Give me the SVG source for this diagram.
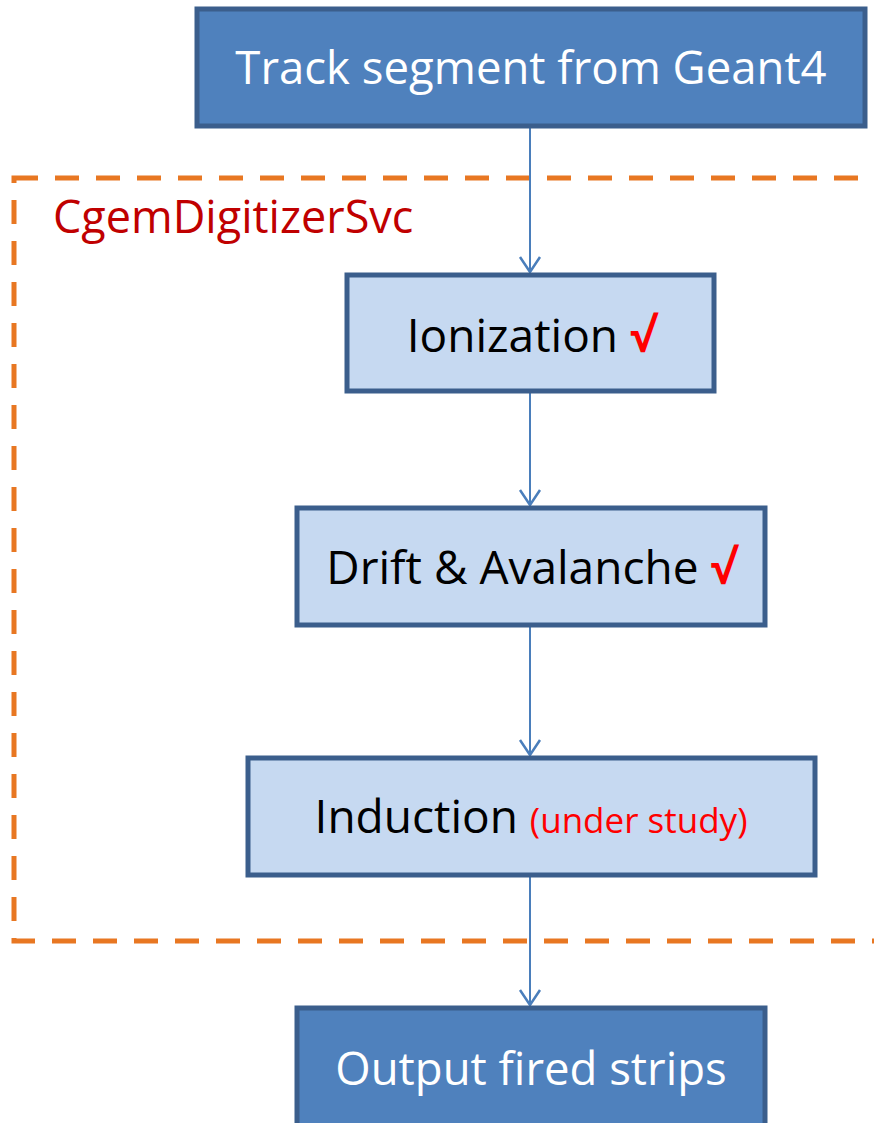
<svg xmlns="http://www.w3.org/2000/svg" width="874" height="1123" viewBox="0 0 874 1123">
  <style>
    .dark { fill: #4f81bd; stroke: #3b5e8c; stroke-width: 5; }
    .light { fill: #c6d9f1; stroke: #3b5e8c; stroke-width: 5; }
    text { font-family: "Open Sans", "Noto Sans", sans-serif; text-anchor: middle; }
    .wt { fill: #ffffff; font-size: 45.5px; }
    .bk { fill: #000000; font-size: 46px; }
    .ok { fill: #ff0000; font-weight: bold; }
    .note { fill: #ff0000; font-size: 35px; }
    .conn { stroke: #4a7ebb; stroke-width: 2; fill: none; }
  </style>
  <defs>
    <marker id="arrow" markerWidth="24" markerHeight="24" refX="18" refY="12" orient="auto" markerUnits="userSpaceOnUse" viewBox="0 0 24 24">
      <path d="M3,2 L18,12 L3,22" fill="none" stroke="#4a7ebb" stroke-width="2.5"/>
    </marker>
  </defs>
  <rect width="874" height="1123" fill="#ffffff"/>

  <!-- service boundary -->
  <g id="svc">
    <rect x="14" y="178" width="900" height="763" fill="none" stroke="#e87722" stroke-width="5" stroke-dasharray="24 17"/>
    <text x="53" y="233" style="text-anchor:start; fill:#c00000; font-size:45px;">CgemDigitizerSvc</text>
  </g>

  <!-- connectors -->
  <g id="connectors">
    <line class="conn" x1="530" y1="126" x2="530" y2="272" marker-end="url(#arrow)"/>
    <line class="conn" x1="530" y1="391" x2="530" y2="505" marker-end="url(#arrow)"/>
    <line class="conn" x1="530" y1="625" x2="530" y2="755" marker-end="url(#arrow)"/>
    <line class="conn" x1="530" y1="875" x2="530" y2="1005" marker-end="url(#arrow)"/>
  </g>

  <g id="track">
    <rect class="dark" x="197" y="9" width="668" height="117"/>
    <text class="wt" x="531" y="84">Track segment from Geant4</text>
  </g>

  <g id="ionization">
    <rect class="light" x="347" y="275" width="367" height="116"/>
    <text class="bk" x="531" y="352">Ionization <tspan class="ok">√</tspan></text>
  </g>

  <g id="drift">
    <rect class="light" x="297" y="508" width="468" height="117"/>
    <text class="bk" x="531" y="584">Drift &amp; Avalanche <tspan class="ok">√</tspan></text>
  </g>

  <g id="induction">
    <rect class="light" x="248" y="758" width="567" height="117"/>
    <text class="bk" x="531" y="833">Induction <tspan class="note">(under study)</tspan></text>
  </g>

  <g id="output">
    <rect class="dark" x="297" y="1008" width="468" height="130"/>
    <text class="wt" x="531" y="1085">Output fired strips</text>
  </g>
</svg>
